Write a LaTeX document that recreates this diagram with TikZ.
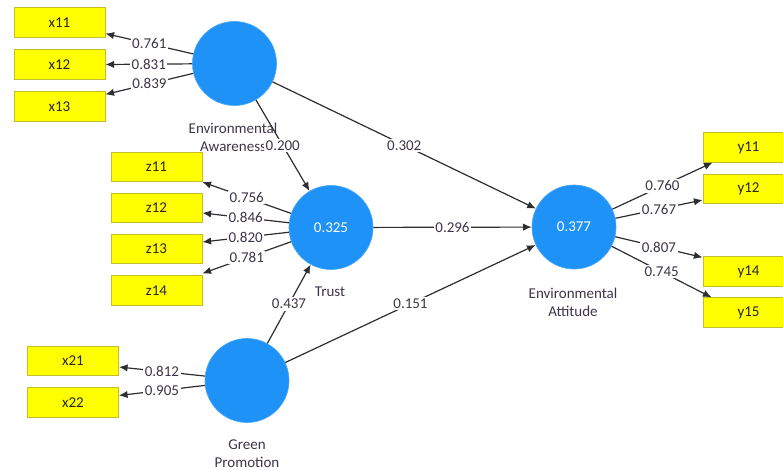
\documentclass[tikz,border=0pt]{standalone}
\usepackage{fontspec}
\setmainfont{Carlito}
\usetikzlibrary{arrows.meta,calc}
\definecolor{lvblue}{RGB}{30,146,246}
\definecolor{indyellow}{RGB}{255,255,0}
\definecolor{indborder}{RGB}{196,188,40}
\definecolor{lbltext}{RGB}{62,52,72}
\definecolor{linecol}{RGB}{45,45,50}
\begin{document}
\begin{tikzpicture}[x=0.75pt,y=-0.75pt,
  every node/.style={font=\fontsize{11.25}{13.5}\selectfont},
  ind/.style={rectangle,fill=indyellow,draw=indborder,line width=0.6pt,minimum width=68.25pt,minimum height=22pt,inner sep=0pt,text=black!85},
  lv/.style={circle,fill=lvblue,draw=lvblue!80!white,line width=0.5pt,minimum size=63pt,inner sep=0pt,text=white},
  lvname/.style={align=center,text=lbltext},
  wt/.style={fill=white,inner sep=1.2pt,text=lbltext},
  arr/.style={draw=linecol,line width=0.9pt,-{Latex[length=6.5pt,width=5.5pt]}}
]
\useasboundingbox (0,0) rectangle (783,470);

% indicators
\node[ind] (x11) at (59.5,22.5) {x11};
\node[ind] (x12) at (59.5,64.5) {x12};
\node[ind] (x13) at (59.5,106.5) {x13};
\node[ind] (z11) at (156.5,167) {z11};
\node[ind] (z12) at (156.5,208) {z12};
\node[ind] (z13) at (156.5,249) {z13};
\node[ind] (z14) at (156.5,290.5) {z14};
\node[ind] (x21) at (73,361) {x21};
\node[ind] (x22) at (73,402.5) {x22};
\node[ind] (y11) at (748.5,147.5) {y11};
\node[ind] (y12) at (748.5,189) {y12};
\node[ind] (y14) at (748.5,271.5) {y14};
\node[ind] (y15) at (748.5,312.5) {y15};

% latent variables
\node[lv] (EA) at (234.5,63.5) {};
\node[lv] (TR) at (331,227.5) {0.325};
\node[lv] (GP) at (247,380.5) {};
\node[lv] (AT) at (574,227) {0.377};

\node[lvname] (EAn) at (233,137.5) {Environmental\\Awareness};
\node[lvname] (TRn) at (330,292) {Trust};
\node[lvname] (GPn) at (247,454) {Green\\Promotion};
\node[lvname] (ATn) at (573,302) {Environmental\\Attitude};

% outer loadings
\draw[arr] (EA) -- ($(x11.south east)+(0,-4)$) node[wt,midway]{0.761};
\draw[arr] (EA) -- (x12.east) node[wt,midway]{0.831};
\draw[arr] (EA) -- ($(x13.north east)+(0,3)$) node[wt,midway]{0.839};

\draw[arr] (TR) -- (z11.south east) node[wt,midway]{0.756};
\draw[arr] (TR) -- ($(z12.east)+(0,5)$) node[wt,midway]{0.846};
\draw[arr] (TR) -- ($(z13.east)+(0,-7)$) node[wt,midway]{0.820};
\draw[arr] (TR) -- ($(z14.north east)+(0,-2)$) node[wt,midway]{0.781};

\draw[arr] (GP) -- ($(x21.east)+(0,6)$) node[wt,midway]{0.812};
\draw[arr] (GP) -- ($(x22.east)+(0,-7)$) node[wt,midway]{0.905};

\draw[arr] (AT) -- ($(y11.south west)+(10,0)$) node[wt,midway]{0.760};
\draw[arr] (AT) -- ($(y12.west)+(0,11)$) node[wt,midway]{0.767};
\draw[arr] (AT) -- ($(y14.north west)+(0,1)$) node[wt,midway]{0.807};
\draw[arr] (AT) -- ($(y15.north west)+(9,0)$) node[wt,midway]{0.745};

% structural paths
\draw[arr] (EA) -- (TR) node[wt,midway]{0.200};
\draw[arr] (EA) -- (AT) node[wt,midway]{0.302};
\draw[arr] (TR) -- (AT) node[wt,midway]{0.296};
\draw[arr] (GP) -- (TR) node[wt,midway]{0.437};
\draw[arr] (GP) -- (AT) node[wt,midway]{0.151};
\end{tikzpicture}
\end{document}
